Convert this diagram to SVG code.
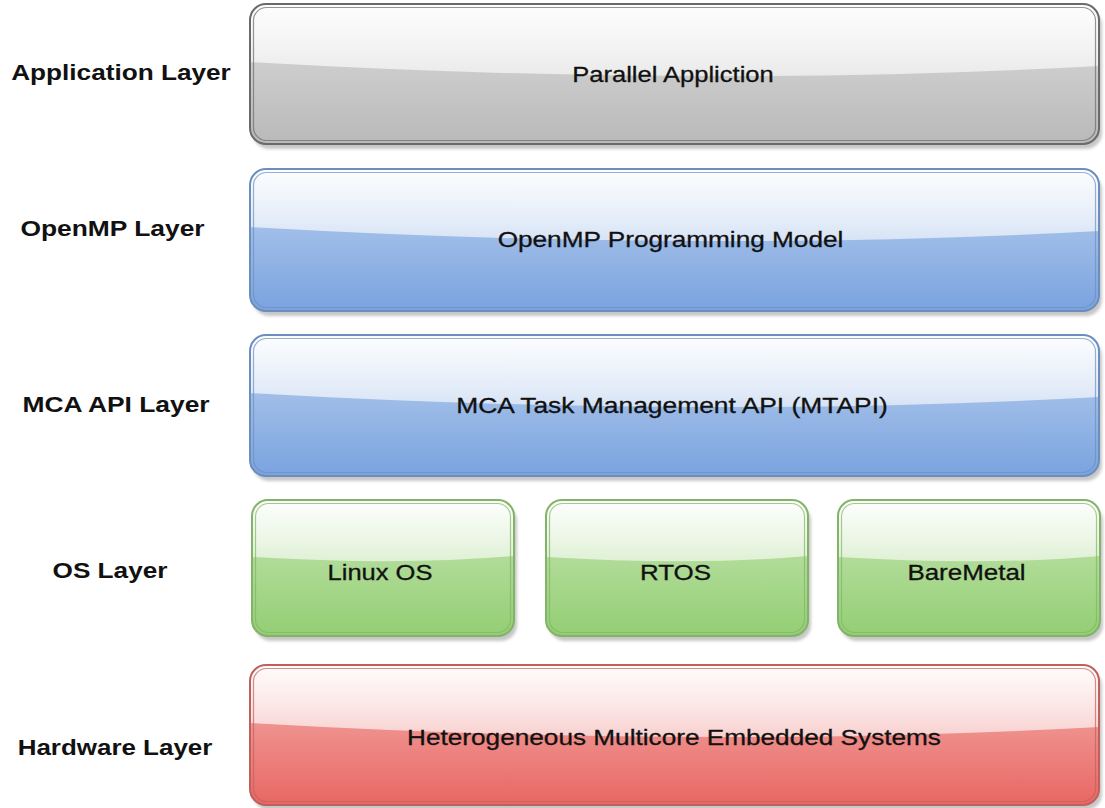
<svg xmlns="http://www.w3.org/2000/svg" width="1105" height="808" viewBox="0 0 1105 808">
  <defs>
    <filter id="shadow" x="-5%" y="-10%" width="112%" height="125%">
      <feDropShadow dx="3" dy="5" stdDeviation="1.6" flood-color="#000" flood-opacity="0.22"/>
    </filter>
    <!-- body fills (lower, saturated part) -->
    <linearGradient id="grayBody" x1="0" y1="0" x2="0" y2="1">
      <stop offset="0" stop-color="#dcdcdc"/>
      <stop offset="1" stop-color="#b9b9b9"/>
    </linearGradient>
    <linearGradient id="blueBody" x1="0" y1="0" x2="0" y2="1">
      <stop offset="0" stop-color="#bcd1ef"/>
      <stop offset="1" stop-color="#7aa3df"/>
    </linearGradient>
    <linearGradient id="greenBody" x1="0" y1="0" x2="0" y2="1">
      <stop offset="0" stop-color="#c6e6b3"/>
      <stop offset="1" stop-color="#93ce73"/>
    </linearGradient>
    <linearGradient id="redBody" x1="0" y1="0" x2="0" y2="1">
      <stop offset="0" stop-color="#f4b1ae"/>
      <stop offset="1" stop-color="#e86763"/>
    </linearGradient>
    <!-- glossy highlight on the upper part -->
    <linearGradient id="gloss" x1="0" y1="0" x2="0" y2="1">
      <stop offset="0" stop-color="#ffffff" stop-opacity="0.95"/>
      <stop offset="1" stop-color="#ffffff" stop-opacity="0.6"/>
    </linearGradient>
  </defs>
  <style>
    .label { font-family: "Liberation Sans", Arial, sans-serif; font-size: 22px; font-weight: bold; fill: #111; text-anchor: middle; }
    .txt { font-family: "Liberation Sans", Arial, sans-serif; font-size: 22px; fill: #111; stroke: #111; stroke-width: 0.3; text-anchor: middle; }
    .outer { fill: none; stroke-width: 2; }
    .inner { fill: none; stroke-width: 1.2; stroke-opacity: 0.7; }
    .gray .outer, .gray .inner { stroke: #6a6a6a; }
    .blue .outer, .blue .inner { stroke: #6c8ebf; }
    .green .outer, .green .inner { stroke: #82b366; }
    .red .outer, .red .inner { stroke: #c0605c; }
  </style>

  <!-- layer captions (text is drawn slightly wide) -->
  <g id="layer-labels">
    <text class="label" transform="translate(121,80) scale(1.19,1)">Application Layer</text>
    <text class="label" transform="translate(112.5,236) scale(1.2,1)">OpenMP Layer</text>
    <text class="label" transform="translate(116,412) scale(1.2,1)">MCA API Layer</text>
    <text class="label" transform="translate(110,578) scale(1.19,1)">OS Layer</text>
    <text class="label" transform="translate(115,755) scale(1.18,1)">Hardware Layer</text>
  </g>

  <!-- Application layer -->
  <g id="parallel-application" class="gray">
    <rect x="250" y="4" width="849" height="140" rx="16" fill="url(#grayBody)" filter="url(#shadow)"/>
    <path d="M250,20 A16,16 0 0 1 266,4 H1083 A16,16 0 0 1 1099,20 V66 Q700,88 250,62 Z" fill="url(#gloss)"/>
    <rect class="inner" x="253.5" y="7.5" width="842" height="133" rx="13"/>
    <rect class="outer" x="250" y="4" width="849" height="140" rx="16"/>
    <text class="txt" transform="translate(673,82) scale(1.16,1)">Parallel Appliction</text>
  </g>

  <!-- OpenMP layer -->
  <g id="openmp-model" class="blue">
    <rect x="250" y="169" width="849" height="142" rx="16" fill="url(#blueBody)" filter="url(#shadow)"/>
    <path d="M250,185 A16,16 0 0 1 266,169 H1083 A16,16 0 0 1 1099,185 V231 Q700,253 250,227 Z" fill="url(#gloss)"/>
    <rect class="inner" x="253.5" y="172.5" width="842" height="135" rx="13"/>
    <rect class="outer" x="250" y="169" width="849" height="142" rx="16"/>
    <text class="txt" transform="translate(670.5,247) scale(1.19,1)">OpenMP Programming Model</text>
  </g>

  <!-- MCA API layer -->
  <g id="mtapi" class="blue">
    <rect x="250" y="335" width="849" height="141" rx="16" fill="url(#blueBody)" filter="url(#shadow)"/>
    <path d="M250,351 A16,16 0 0 1 266,335 H1083 A16,16 0 0 1 1099,351 V397 Q700,419 250,393 Z" fill="url(#gloss)"/>
    <rect class="inner" x="253.5" y="338.5" width="842" height="134" rx="13"/>
    <rect class="outer" x="250" y="335" width="849" height="141" rx="16"/>
    <text class="txt" transform="translate(672,413) scale(1.2,1)">MCA Task Management API (MTAPI)</text>
  </g>

  <!-- OS layer -->
  <g id="linux-os" class="green">
    <rect x="252" y="500" width="262" height="136" rx="16" fill="url(#greenBody)" filter="url(#shadow)"/>
    <path d="M252,516 A16,16 0 0 1 268,500 H498 A16,16 0 0 1 514,516 V556 Q400,566 252,557 Z" fill="url(#gloss)"/>
    <rect class="inner" x="255.5" y="503.5" width="255" height="129" rx="13"/>
    <rect class="outer" x="252" y="500" width="262" height="136" rx="16"/>
    <text class="txt" transform="translate(380,580) scale(1.16,1)">Linux OS</text>
  </g>

  <g id="rtos" class="green">
    <rect x="546" y="500" width="262" height="136" rx="16" fill="url(#greenBody)" filter="url(#shadow)"/>
    <path d="M546,516 A16,16 0 0 1 562,500 H792 A16,16 0 0 1 808,516 V556 Q694,566 546,557 Z" fill="url(#gloss)"/>
    <rect class="inner" x="549.5" y="503.5" width="255" height="129" rx="13"/>
    <rect class="outer" x="546" y="500" width="262" height="136" rx="16"/>
    <text class="txt" transform="translate(675.5,580) scale(1.18,1)">RTOS</text>
  </g>

  <g id="baremetal" class="green">
    <rect x="838" y="500" width="262" height="136" rx="16" fill="url(#greenBody)" filter="url(#shadow)"/>
    <path d="M838,516 A16,16 0 0 1 854,500 H1084 A16,16 0 0 1 1100,516 V556 Q986,566 838,557 Z" fill="url(#gloss)"/>
    <rect class="inner" x="841.5" y="503.5" width="255" height="129" rx="13"/>
    <rect class="outer" x="838" y="500" width="262" height="136" rx="16"/>
    <text class="txt" transform="translate(966.5,580) scale(1.18,1)">BareMetal</text>
  </g>

  <!-- Hardware layer -->
  <g id="hardware" class="red">
    <rect x="250" y="665" width="849" height="140" rx="16" fill="url(#redBody)" filter="url(#shadow)"/>
    <path d="M250,681 A16,16 0 0 1 266,665 H1083 A16,16 0 0 1 1099,681 V727 Q700,749 250,723 Z" fill="url(#gloss)"/>
    <rect class="inner" x="253.5" y="668.5" width="842" height="133" rx="13"/>
    <rect class="outer" x="250" y="665" width="849" height="140" rx="16"/>
    <text class="txt" transform="translate(674,745) scale(1.19,1)">Heterogeneous Multicore Embedded Systems</text>
  </g>

  <!-- no connectors between layers -->
  <g id="connectors"/>
</svg>
